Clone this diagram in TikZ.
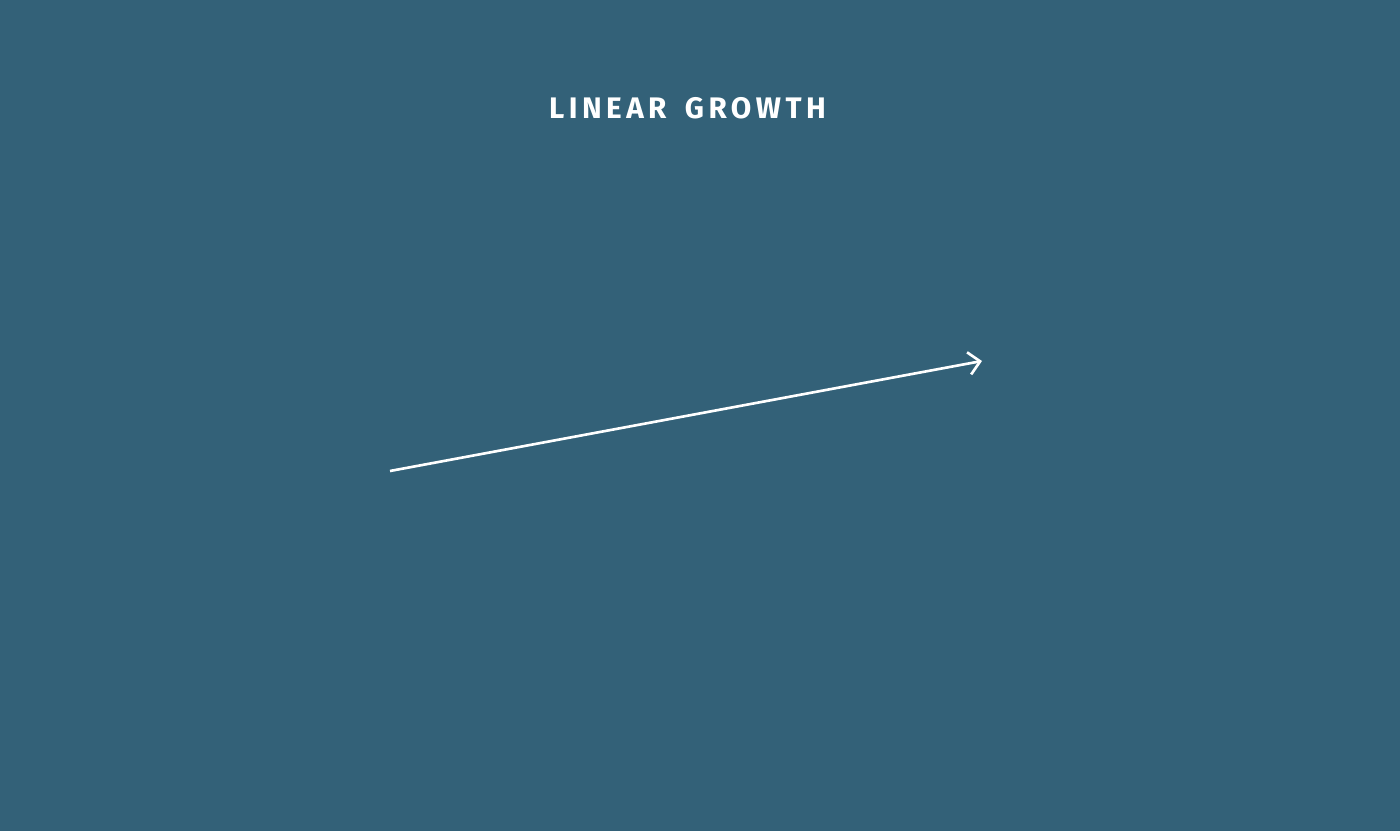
\documentclass[tikz,border=0pt]{standalone}
\usepackage{fontspec}
\setmainfont{Fira Sans}
\newfontfamily\fuenteTitulo[LetterSpace=15,WordSpace=1.6]{Fira Sans}
\usepackage{tikz}
\usetikzlibrary{arrows.meta}
\definecolor{fondoAzul}{RGB}{51,97,120}

\begin{document}
\begin{tikzpicture}[
    % --- TITULO: negrita, espaciado ---
    titulo/.style={text=white, font=\fuenteTitulo\bfseries\fontsize{8.45}{10}\selectfont, inner sep=0pt},
    % --- FLECHA: blanca, punta abierta ---
    flechaCrecimiento/.style={-{Straight Barb[length=3.2pt,width=6.4pt]}, color=white, line width=0.75pt}
]

    % --- FONDO ---
    \fill[fondoAzul] (0,0) rectangle (14,8.31);
    \useasboundingbox (0,0) rectangle (14,8.31);

    % --- TITULO ---
    \node[titulo] (titulo) at (6.875,7.23) {LINEAR GROWTH};

    % --- EXTREMOS DE LA FLECHA ---
    \coordinate (inicio) at (3.90,3.60);
    \coordinate (final)  at (9.82,4.70);

    \draw[flechaCrecimiento] (inicio) -- (final);

\end{tikzpicture}
\end{document}
